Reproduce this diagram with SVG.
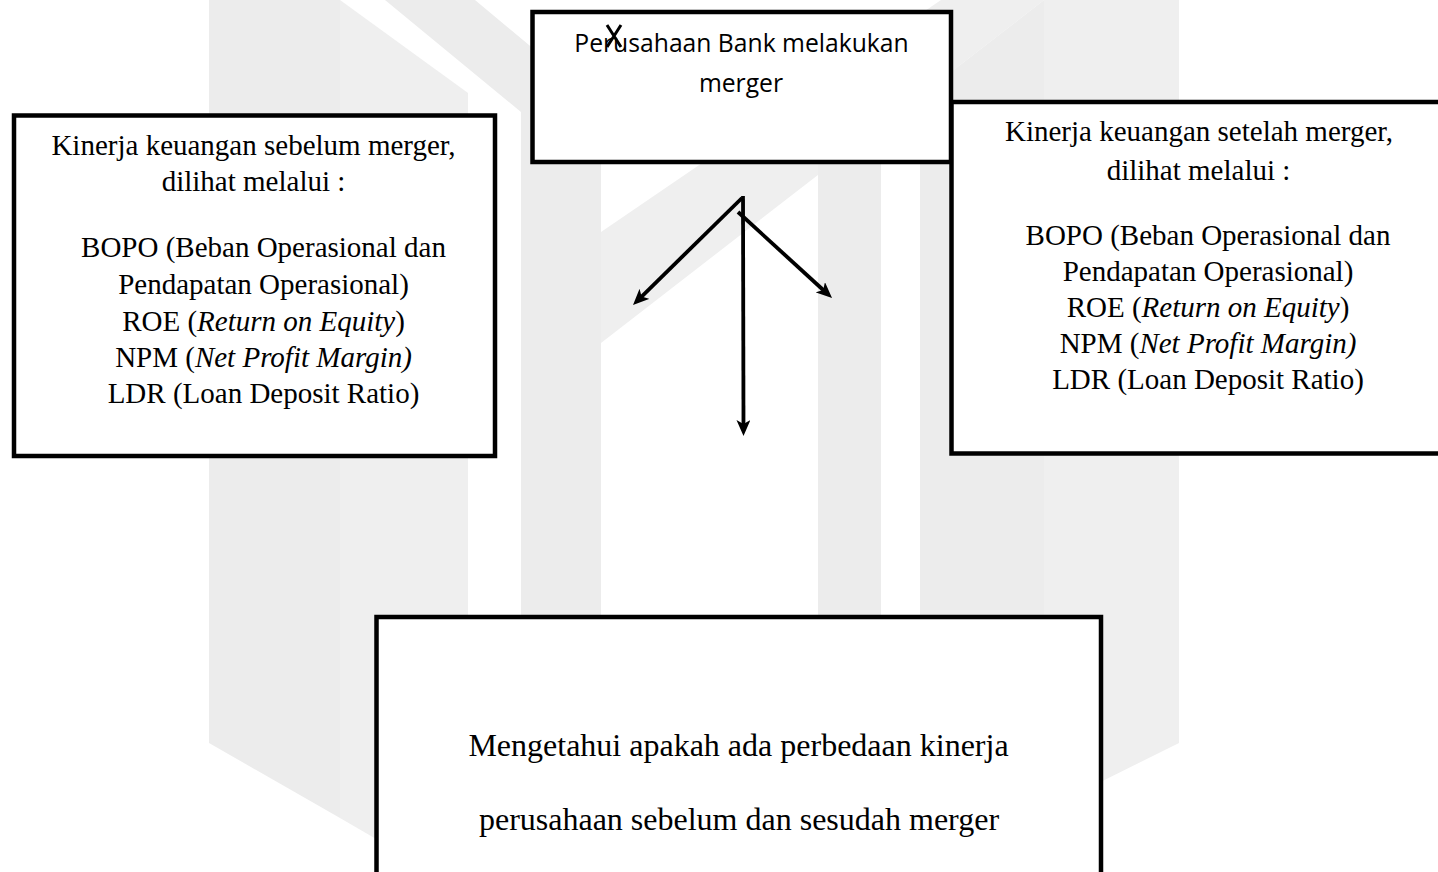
<svg xmlns="http://www.w3.org/2000/svg" width="1438" height="872" viewBox="0 0 1438 872">
<style>
.box{fill:#ffffff;stroke:#000000;stroke-width:4.5}
.wm{fill:#ececec;stroke:none}
.wm2{fill:#efefef;stroke:none}
.tnr{font-family:"Liberation Serif","Times New Roman",serif;font-size:29px;fill:#000000;text-anchor:middle}
.big{font-size:32px}
.cal{font-family:"Open Sans","Noto Sans","Liberation Sans",sans-serif;font-size:24.7px;fill:#000000;text-anchor:middle}
.it{font-style:italic}
.conn{stroke:#000000;stroke-width:3.8;fill:none}
</style>
<defs>
<marker id="ah" markerUnits="userSpaceOnUse" viewBox="0 0 16 14" markerWidth="16" markerHeight="14" refX="10" refY="7" orient="auto">
<path d="M0,0 L16,7 L0,14 L4,7 Z" fill="#000000"/>
</marker>
</defs>
<rect x="0" y="0" width="1438" height="872" fill="#ffffff"/>
<g id="watermark">
<polygon class="wm" points="209,0 340,0 340,818 209,743"/>
<polygon class="wm2" points="340,0 468,93 468,872 433,872 340,818"/>
<polygon class="wm" points="385,0 475,0 601,105 601,615 521,615 521,112"/>
<polygon class="wm2" points="601,232 941,0 1044,0 601,343"/>
<polygon class="wm" points="818,150 881,150 881,615 818,615"/>
<polygon class="wm2" points="1044,0 1179,0 1179,743 1044,810"/>
<polygon class="wm" points="920,96 1044,0 1044,810 920,872"/>
</g>
<g id="node-merger">
<rect class="box" x="532.5" y="12" width="418.5" height="150"/>
<text class="cal" x="741.5" y="52">Perusahaan Bank melakukan</text>
<text class="cal" x="741" y="92">merger</text>
<path d="M607,25 L621,47 M621,25 L607,47" stroke="#000000" stroke-width="3" fill="none"/>
</g>
<g id="node-sebelum">
<rect class="box" x="14" y="115.5" width="481" height="340.5"/>
<text class="tnr" x="253.5" y="155">Kinerja keuangan sebelum merger,</text>
<text class="tnr" x="253.5" y="190.5">dilihat melalui :</text>
<text class="tnr" x="263.5" y="257">BOPO (Beban Operasional dan</text>
<text class="tnr" x="263.5" y="294">Pendapatan Operasional)</text>
<text class="tnr" x="263.5" y="330.5">ROE (<tspan class="it">Return on Equity</tspan>)</text>
<text class="tnr" x="263.5" y="366.5">NPM (<tspan class="it">Net Profit Margin)</tspan></text>
<text class="tnr" x="263.5" y="403">LDR (Loan Deposit Ratio)</text>
</g>
<g id="node-setelah">
<rect class="box" x="951.5" y="102" width="500" height="351.5"/>
<text class="tnr" x="1199" y="140.5">Kinerja keuangan setelah merger,</text>
<text class="tnr" x="1198.5" y="180">dilihat melalui :</text>
<text class="tnr" x="1208" y="245">BOPO (Beban Operasional dan</text>
<text class="tnr" x="1208" y="280.5">Pendapatan Operasional)</text>
<text class="tnr" x="1208" y="317">ROE (<tspan class="it">Return on Equity</tspan>)</text>
<text class="tnr" x="1208" y="353">NPM (<tspan class="it">Net Profit Margin)</tspan></text>
<text class="tnr" x="1208" y="389">LDR (Loan Deposit Ratio)</text>
</g>
<g id="node-tujuan">
<rect class="box" x="376.5" y="617" width="724.5" height="270"/>
<text class="tnr big" x="738.5" y="756">Mengetahui apakah ada perbedaan kinerja</text>
<text class="tnr big" x="739" y="830">perusahaan sebelum dan sesudah merger</text>
</g>
<g id="connectors">
<line class="conn" x1="743" y1="196" x2="743.5" y2="430" marker-end="url(#ah)"/>
<line class="conn" x1="742" y1="198" x2="637.3" y2="300.8" marker-end="url(#ah)"/>
<line class="conn" x1="738" y1="212" x2="827.6" y2="294" marker-end="url(#ah)"/>
</g>
</svg>
